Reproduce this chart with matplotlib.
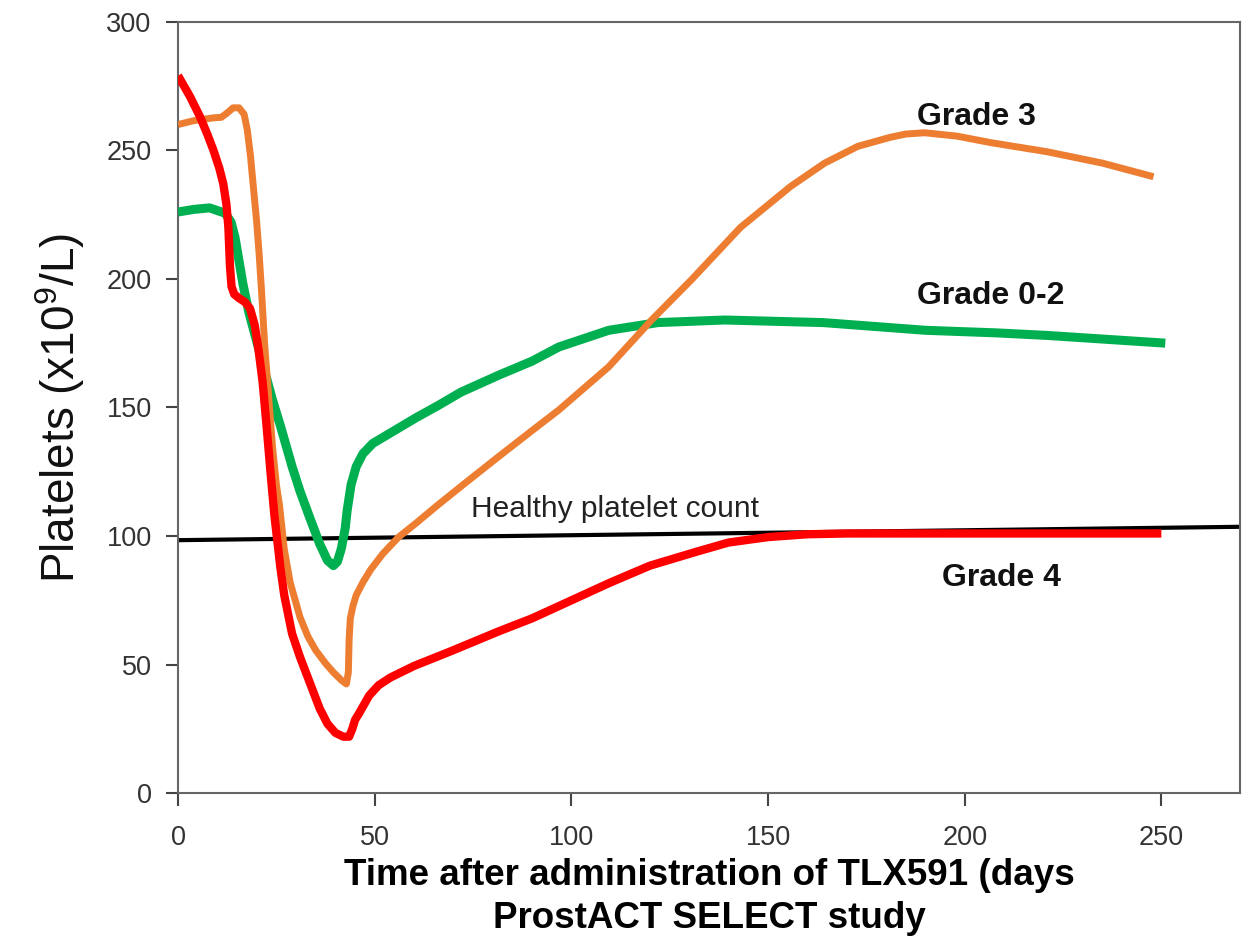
import matplotlib
matplotlib.use('Agg')
import matplotlib.pyplot as plt

plt.rcParams['font.family'] = ['Liberation Sans', 'DejaVu Sans']
plt.rcParams['mathtext.fontset'] = 'custom'
plt.rcParams['mathtext.rm'] = 'Liberation Sans'

# ---------------- data
grade02_days = [0, 4, 8, 12, 13.5, 14.5, 15.5, 16.5, 18, 21, 24, 26, 29, 31, 33.4, 36, 38, 39.5,
                40.5, 41.5, 42.5, 43, 44, 45.3, 47, 49.5, 55, 60.5, 66.4, 72, 81.6, 90, 96.8,
                109.5, 122, 139, 164, 190, 208, 221, 251]
grade02_vals = [226, 227, 227.6, 225.5, 222, 216, 207, 198, 187, 170, 153, 143, 127, 117.5, 107.5, 97, 90.5, 88.5,
                90, 95, 103, 110, 120, 127, 132, 136, 141, 146, 151, 156, 162.6, 168, 173.5,
                180, 183, 184, 183, 180, 179, 178, 175]

grade3_days = [0, 4, 9, 11, 12.5, 14, 15.5, 16.8, 17.6, 18.4, 19.2, 20, 20.6, 21.2, 22, 23, 24, 25,
               25.8, 27, 28.5, 31, 33, 35, 37.5, 39.5, 41.5, 42.8, 43.3, 43.5, 43.8, 44.5, 45.3,
               47, 49, 52, 56, 60.5, 66, 73, 81.6, 90, 96.8, 109.5, 120.4, 130.5, 143, 155.8,
               164.4, 172.8, 181, 185, 189.8, 198, 206.5, 221, 235, 248]
grade3_vals = [260, 261.5, 262.6, 262.8, 264.5, 266.5, 266.5, 264, 258, 248, 235, 222, 210, 196, 175, 155, 135, 120,
               112, 95, 82, 68.5, 61, 55.6, 50.5, 47, 44, 42.5, 47, 60, 68, 73, 77,
               82, 87, 93, 99.5, 105, 112, 120.6, 131, 141, 149, 165.8, 184, 199.6, 220, 236,
               245, 251.5, 255, 256.3, 256.8, 255.5, 253, 249.4, 245, 239.7]

grade4_days = [0, 3, 5.6, 7.5, 9, 10.5, 11.5, 12.3, 12.8, 13.2, 13.6, 14.3, 15.5, 17, 18.3, 19.5, 20.5,
               21.5, 22.5, 23.5, 24.5, 26, 27, 29, 31, 33.5, 36, 38, 40, 42, 43.5, 44.3, 45, 46,
               48.6, 51, 54, 60, 69, 81.6, 90, 100, 110, 120, 132, 140, 150, 160, 170, 208, 250]
grade4_vals = [279, 271, 263, 256, 250, 243, 237, 229, 220, 205, 197, 194, 192.5, 191, 188.5, 182, 172,
               160, 143, 125, 108, 88, 77, 62, 53, 43, 33, 27, 23.5, 22, 22, 25, 28.5, 31,
               38, 42, 45, 49.5, 55, 63, 68, 75, 82, 88.5, 94, 97.5, 99.6, 100.7, 101, 101, 101]

healthy_days = [0, 270]
healthy_vals = [98.4, 103.6]

xticks = [0, 50, 100, 150, 200, 250]
yticks = [0, 50, 100, 150, 200, 250, 300]

# ---------------- plot
fig = plt.figure(figsize=(12.45, 9.41), dpi=100)
ax = fig.add_axes([0.143, 0.157, 0.853, 0.820])

ax.plot(healthy_days, healthy_vals, color='black', lw=3, solid_capstyle='butt', zorder=2)
ax.plot(grade02_days, grade02_vals, color='#00B050', lw=6.5, solid_capstyle='butt', zorder=3)
ax.plot(grade3_days, grade3_vals, color='#ED7D31', lw=5, solid_capstyle='butt', zorder=3)
ax.plot(grade4_days, grade4_vals, color='#FF0000', lw=6, solid_capstyle='butt', zorder=4)

ax.text(188, 263, 'Grade 3', fontsize=23, fontweight='bold', ha='left', va='center', color='#111111')
ax.text(188, 193.4, 'Grade 0-2', fontsize=23, fontweight='bold', ha='left', va='center', color='#111111')
ax.text(194.3, 83.7, 'Grade 4', fontsize=23, fontweight='bold', ha='left', va='center', color='#111111')
ax.text(74.5, 110.5, 'Healthy platelet count', fontsize=21.5, ha='left', va='center', color='#222222')

ax.set_xlim(0, 270)
ax.set_ylim(0, 300)
ax.set_xticks(xticks)
ax.set_yticks(yticks)
ax.tick_params(direction='out', length=9, width=1.5, color='#444444', labelsize=19.5,
               labelcolor='#333333')
ax.tick_params(axis='x', pad=14)
ax.tick_params(axis='y', pad=10)
for s in ax.spines.values():
    s.set_color('#666666')
    s.set_linewidth(1.5)

ax.set_ylabel('Platelets (x10$^{9}$/L)', fontsize=33, labelpad=14, color='#111111')
ax.set_xlabel('Time after administration of TLX591 (days\nProstACT SELECT study', fontsize=26.5,
              fontweight='bold', linespacing=1.3, labelpad=5)

fig.savefig('out.png', dpi=100)
